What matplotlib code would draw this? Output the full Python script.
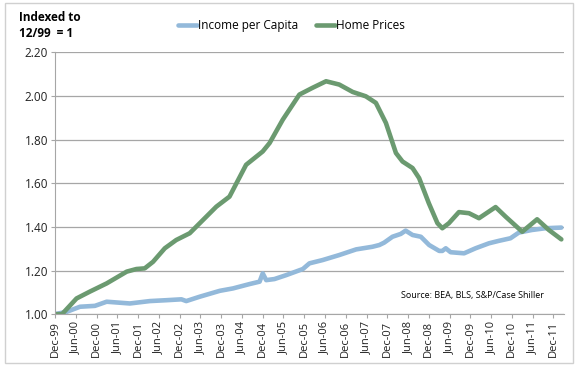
import matplotlib.pyplot as plt
from matplotlib.patches import Rectangle

# months after Dec-99 and index values
income_months = [0, 3.4, 7.2, 11.5, 14.9, 21.6, 27.4, 32.2, 36.5, 37.9, 41.8, 47.6, 51.4,
                 56.2, 59.1, 60, 61, 63.4, 66.8, 71.6, 73.5, 77.3, 82.1, 87, 91.7, 93.7,
                 95.1, 97.5, 99.9, 101.3, 103.3, 105.7, 108.1, 111, 111.9, 112.9, 114.3,
                 118.2, 121.5, 125.4, 128.2, 131.6, 134, 137.8, 141.7, 146.3]
income = [1.00, 1.011, 1.034, 1.038, 1.057, 1.049, 1.060, 1.064, 1.068, 1.060, 1.080, 1.107, 1.118,
          1.138, 1.149, 1.187, 1.156, 1.161, 1.179, 1.207, 1.233, 1.248, 1.271, 1.297, 1.309, 1.317,
          1.328, 1.355, 1.368, 1.383, 1.363, 1.355, 1.317, 1.290, 1.290, 1.302, 1.284,
          1.279, 1.302, 1.325, 1.336, 1.348, 1.374, 1.386, 1.394, 1.397]

home_months = [0, 2, 6.2, 10, 14.9, 20.7, 23.5, 25.9, 28.3, 31.7, 35, 38.9, 41.8, 46.6, 50.4,
               52.4, 55.2, 60, 62, 65.8, 70.6, 74.4, 78.3, 82.1, 86, 89.8, 92.7, 95.6, 98.5,
               100.4, 103.3, 105.2, 108, 110.5, 111.9, 113.8, 116.7, 119.6, 122.5, 127.3,
               130.2, 135, 139.3, 142.7, 146.3]
home = [1.00, 1.00, 1.072, 1.103, 1.141, 1.195, 1.207, 1.210, 1.240, 1.302, 1.340, 1.371, 1.417,
        1.493, 1.539, 1.600, 1.685, 1.746, 1.785, 1.892, 2.007, 2.038, 2.068, 2.053, 2.019, 1.999,
        1.969, 1.877, 1.739, 1.700, 1.670, 1.624, 1.509, 1.417, 1.394, 1.417, 1.468, 1.463,
        1.440, 1.491, 1.447, 1.378, 1.435, 1.386, 1.343]

tick_labels = []
for yr in range(99, 112):
    if yr > 99:
        tick_labels.append("Jun-%02d" % (yr % 100))
    tick_labels.append("Dec-%02d" % (yr % 100))
tick_pos = [6 * i for i in range(len(tick_labels))]

plt.rcParams['font.family'] = ['Open Sans', 'DejaVu Sans']

fig = plt.figure(figsize=(5.8, 3.67), dpi=100)
ax = fig.add_axes([0.095, 0.144, 0.877, 0.713])

ax.plot(income_months, income, color="#93b9da", linewidth=3.3, label="Income per Capita",
        solid_joinstyle="round", solid_capstyle="round")
ax.plot(home_months, home, color="#6b9a70", linewidth=3.3, label="Home Prices",
        solid_joinstyle="round", solid_capstyle="round")

ax.set_xlim(0, 147)
ax.set_ylim(1.0, 2.2)
ax.set_yticks([1.0, 1.2, 1.4, 1.6, 1.8, 2.0, 2.2])
ax.set_yticklabels(["%.2f" % v for v in ax.get_yticks()], fontsize=8.5)
ax.set_xticks(tick_pos)
ax.set_xticklabels(tick_labels, rotation=90, fontsize=8)
ax.grid(axis="y", color="#a6a6a6", linewidth=0.9)
ax.set_axisbelow(True)
for s in ["top", "right"]:
    ax.spines[s].set_visible(False)
for s in ["left", "bottom"]:
    ax.spines[s].set_color("#a6a6a6")
ax.tick_params(axis="both", colors="#a6a6a6", labelcolor="#222222", length=3, pad=2)

ax.legend(loc="center", bbox_to_anchor=(0.464, 1.104), ncol=2, frameon=False,
          fontsize=8.5, handlelength=1.6, handletextpad=0.1, columnspacing=1.5,
          borderaxespad=0, borderpad=0)

fig.text(0.033, 0.93, "Indexed to\n12/99  = 1", fontsize=8.5, fontweight="bold",
         va="center", ha="left", linespacing=1.3)
ax.text(0.82, 0.07, "Source: BEA, BLS, S&P/Case Shiller", transform=ax.transAxes,
        fontsize=6.5, ha="center", va="center")

fig.patches.append(Rectangle((0.009, 0.011), 0.979, 0.98, transform=fig.transFigure,
                             fill=False, edgecolor="#d0d0d0", linewidth=1))

plt.savefig("out.png", dpi=100)
